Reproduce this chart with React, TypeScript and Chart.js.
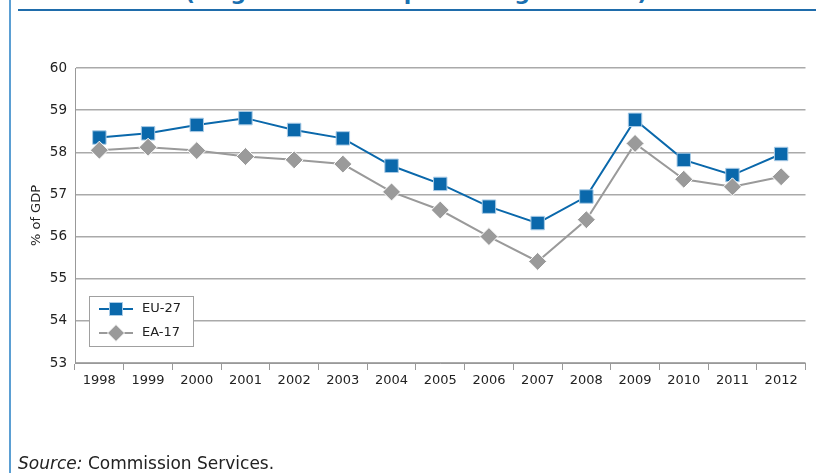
import React, { useEffect, useRef } from 'react';
import { Chart, registerables } from 'chart.js';

Chart.register(...registerables);

const years = ['1998', '1999', '2000', '2001', '2002', '2003', '2004', '2005', '2006', '2007', '2008', '2009', '2010', '2011', '2012'];
const eu27 = [58.35, 58.45, 58.65, 58.81, 58.53, 58.33, 57.68, 57.25, 56.71, 56.32, 56.95, 58.77, 57.82, 57.46, 57.96];
const ea17 = [58.05, 58.12, 58.04, 57.9, 57.82, 57.72, 57.06, 56.63, 56.0, 55.41, 56.4, 58.21, 57.36, 57.18, 57.42];
const yMin = 53;
const yMax = 60;
const yStep = 1;

const titleText = '(wage share as a percentage of GDP)';
const yTitle = '% of GDP';

const BLUE = '#0a68ab';
const GREY = '#9a9a9a';
const FONT = "'DejaVu Sans', sans-serif";

const legendBox = {
  id: 'legendBox',
  afterDraw(chart: any) {
    const ctx = chart.ctx;
    const area = chart.chartArea;
    const bx = area.left + 14;
    const by = area.bottom - 67;
    const bw = 104;
    const bh = 50;
    ctx.save();
    ctx.fillStyle = '#ffffff';
    ctx.fillRect(bx, by, bw, bh);
    ctx.strokeStyle = '#a0a0a0';
    ctx.lineWidth = 1;
    ctx.strokeRect(bx + 0.5, by + 0.5, bw, bh);
    const items = chart.data.datasets.map((d: any) => d);
    items.forEach((d: any, i: number) => {
      const cy = by + 13 + i * 24;
      const x0 = bx + 10;
      const x1 = bx + 44;
      const cx = (x0 + x1) / 2;
      ctx.strokeStyle = d.borderColor;
      ctx.lineWidth = 2;
      ctx.beginPath();
      ctx.moveTo(x0, cy);
      ctx.lineTo(x1, cy);
      ctx.stroke();
      ctx.fillStyle = d.pointBackgroundColor;
      ctx.strokeStyle = d.pointBorderColor;
      ctx.lineWidth = 1;
      ctx.beginPath();
      if (d.pointStyle === 'rect') {
        const s = 6.5;
        ctx.rect(cx - s, cy - s, 2 * s, 2 * s);
      } else {
        const r = 8.5;
        ctx.moveTo(cx - r, cy);
        ctx.lineTo(cx, cy - r);
        ctx.lineTo(cx + r, cy);
        ctx.lineTo(cx, cy + r);
        ctx.closePath();
      }
      ctx.fill();
      ctx.stroke();
      ctx.fillStyle = '#222222';
      ctx.font = `13px ${FONT}`;
      ctx.textBaseline = 'middle';
      ctx.textAlign = 'left';
      ctx.fillText(d.label, bx + 53, cy);
    });
    ctx.restore();
  },
};

export default function App() {
  const ref = useRef<HTMLCanvasElement | null>(null);

  useEffect(() => {
    if (!ref.current) return;
    Chart.defaults.font.family = FONT;
    const chart = new Chart(ref.current, {
      type: 'line',
      data: {
        labels: years,
        datasets: [
          {
            label: 'EU-27',
            data: eu27,
            borderColor: BLUE,
            backgroundColor: BLUE,
            pointBackgroundColor: BLUE,
            pointBorderColor: '#a9cbe6',
            pointBorderWidth: 1,
            pointStyle: 'rect',
            pointRadius: 9.5,
            pointHoverRadius: 9.5,
            borderWidth: 2,
            tension: 0,
            order: 2,
          },
          {
            label: 'EA-17',
            data: ea17,
            borderColor: GREY,
            backgroundColor: GREY,
            pointBackgroundColor: GREY,
            pointBorderColor: '#ffffff',
            pointBorderWidth: 1,
            pointStyle: 'rectRot',
            pointRadius: 9,
            pointHoverRadius: 9,
            borderWidth: 2,
            tension: 0,
            order: 1,
          },
        ],
      },
      options: {
        animation: false,
        responsive: false,
        devicePixelRatio: 1,
        layout: { padding: { left: 25, top: 68, right: 9, bottom: 0 } },
        plugins: {
          legend: { display: false },
          tooltip: { enabled: false },
          title: { display: false },
        },
        scales: {
          x: {
            type: 'category',
            offset: true,
            grid: {
              offset: true,
              drawOnChartArea: false,
              drawTicks: true,
              tickLength: 7,
              color: '#999999',
              lineWidth: 1,
            },
            border: { color: '#999999', width: 1 },
            ticks: {
              color: '#222222',
              font: { size: 13, family: FONT },
              padding: 3,
              maxRotation: 0,
              autoSkip: false,
            },
            afterFit: (scale: any) => {
              scale.height = 110;
            },
          },
          y: {
            min: yMin,
            max: yMax,
            grid: { color: '#aaaaaa', lineWidth: 1.4, drawTicks: false },
            border: { color: '#999999', width: 1 },
            ticks: {
              stepSize: yStep,
              color: '#222222',
              font: { size: 13.5, family: FONT },
              padding: 8,
            },
            title: {
              display: true,
              text: yTitle,
              color: '#222222',
              font: { size: 13, family: FONT },
              padding: { top: 4, bottom: 4 },
            },
            afterFit: (scale: any) => {
              scale.width = 50;
            },
          },
        },
      },
      plugins: [legendBox],
    } as any);
    return () => chart.destroy();
  }, []);

  return (
    <div style={{ position: 'absolute', left: 0, top: 0, width: 816, height: 473, overflow: 'hidden', background: '#ffffff' }}>
      <div style={{ position: 'absolute', left: 9, top: 0, width: 2, height: 473, background: '#5b9fd3' }} />
      <div style={{ position: 'absolute', left: 18, top: 9, width: 798, height: 2, background: '#1f6cab' }} />
      <div
        style={{
          position: 'absolute',
          left: 185,
          top: -20,
          whiteSpace: 'nowrap',
          font: `bold 22px/26px ${FONT}`,
          color: '#1a6fb0',
        }}
      >
        {titleText}
      </div>
      <canvas ref={ref} width={816} height={473} style={{ position: 'absolute', left: 0, top: 0, width: 816, height: 473 }} />
      <div
        style={{
          position: 'absolute',
          left: 18,
          top: 453,
          whiteSpace: 'nowrap',
          font: `17px/20px ${FONT}`,
          color: '#222222',
        }}
      >
        <i>Source:</i> Commission Services.
      </div>
    </div>
  );
}
